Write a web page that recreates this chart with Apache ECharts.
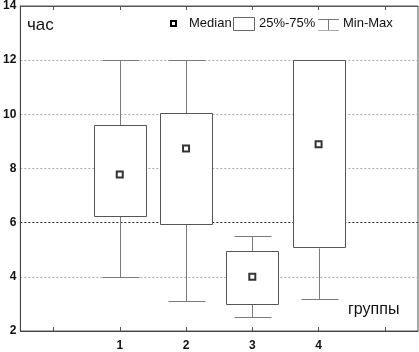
<!DOCTYPE html>
<html>
<head>
<meta charset="utf-8">
<script src="https://cdn.jsdelivr.net/npm/echarts@6/dist/echarts.min.js"></script>
<style>
  html, body { margin: 0; padding: 0; background: #fff; }
  #chart { width: 419px; height: 352px; }
</style>
</head>
<body>
<div id="chart"></div>
<script>
// данные: группы и их статистики (час)
var categories = ['0', '1', '2', '3', '4', '5'];
var xTickLabels = ['', '1', '2', '3', '4', ''];
var groupIndex = [1, 2, 3, 4];
var minValues = [4.0, 3.1, 2.5, 3.2];
var q1Values = [6.23, 5.95, 3.0, 5.08];
var medianValues = [7.78, 8.74, 4.0, 8.9];
var q3Values = [9.6, 10.05, 4.97, 12.0];
var maxValues = [12.0, 12.0, 5.5, 12.0];
var yTicks = [2, 4, 6, 8, 10, 12, 14];

var boxData = groupIndex.map(function (g, i) {
  return [g, minValues[i], q1Values[i], medianValues[i], q3Values[i], maxValues[i]];
});
var medianData = groupIndex.map(function (g, i) {
  return [g, medianValues[i]];
});

var myChart = echarts.init(document.getElementById('chart'), null, { renderer: 'canvas' });

function crisp(v) { return Math.round(v) + 0.5; }

var option = {
  animation: false,
  backgroundColor: '#fff',
  textStyle: { fontFamily: 'Liberation Sans, Arial, sans-serif' },
  grid: {
    left: 18, right: 1, top: 4, bottom: 20,
    show: true, borderColor: '#555', borderWidth: 1, backgroundColor: '#fff'
  },
  xAxis: [
    {
      type: 'category',
      data: categories,
      boundaryGap: true,
      axisLine: { show: true, lineStyle: { color: '#444', width: 1 } },
      axisTick: { show: true, inside: true, alignWithLabel: true, length: 4, lineStyle: { color: '#555' } },
      axisLabel: {
        margin: 9, color: '#111', fontSize: 12, fontWeight: 'bold',
        formatter: function (v, i) { return xTickLabels[i]; }
      },
      splitLine: { show: false }
    },
    {
      type: 'category',
      position: 'top',
      data: categories,
      boundaryGap: true,
      axisLine: { show: true, lineStyle: { color: '#555', width: 1 } },
      axisTick: { show: true, inside: true, alignWithLabel: true, length: 4, lineStyle: { color: '#555' } },
      axisLabel: { show: false },
      splitLine: { show: false }
    }
  ],
  yAxis: {
    type: 'value',
    min: yTicks[0],
    max: yTicks[yTicks.length - 1],
    interval: 2,
    axisLine: { show: true, lineStyle: { color: '#444', width: 1 } },
    axisTick: { show: false },
    axisLabel: { margin: 4, color: '#111', fontSize: 12, fontWeight: 'bold' },
    splitLine: {
      show: true,
      lineStyle: {
        color: ['#aaa', '#aaa', '#222', '#aaa', '#aaa', '#aaa', '#aaa'],
        type: [2, 2],
        width: 1
      }
    }
  },
  series: [
    {
      type: 'custom',
      name: 'boxes',
      data: boxData,
      encode: { x: 0, y: [1, 2, 3, 4, 5] },
      z: 3,
      renderItem: function (params, api) {
        var x = api.value(0);
        var lo = api.coord([x, api.value(1)]);
        var q1 = api.coord([x, api.value(2)]);
        var q3 = api.coord([x, api.value(4)]);
        var hi = api.coord([x, api.value(5)]);
        var band = api.size([1, 0])[0];
        var bw = band * 0.79;
        var cw = band * 0.56;
        var cx = crisp(lo[0]);
        var whisk = { stroke: '#7a7a7a', lineWidth: 1 };
        return {
          type: 'group',
          children: [
            { type: 'line', shape: { x1: cx, y1: crisp(hi[1]), x2: cx, y2: crisp(q3[1]) }, style: whisk },
            { type: 'line', shape: { x1: cx, y1: crisp(lo[1]), x2: cx, y2: crisp(q1[1]) }, style: whisk },
            { type: 'line', shape: { x1: crisp(cx - cw / 2), y1: crisp(hi[1]), x2: crisp(cx + cw / 2), y2: crisp(hi[1]) }, style: whisk },
            { type: 'line', shape: { x1: crisp(cx - cw / 2), y1: crisp(lo[1]), x2: crisp(cx + cw / 2), y2: crisp(lo[1]) }, style: whisk },
            {
              type: 'rect',
              shape: {
                x: crisp(cx - bw / 2), y: crisp(q3[1]),
                width: Math.round(bw), height: Math.round(q1[1] - q3[1])
              },
              style: { fill: '#fff', stroke: '#555', lineWidth: 1 }
            }
          ]
        };
      }
    },
    {
      type: 'scatter',
      name: 'Median',
      data: medianData,
      symbol: 'rect',
      symbolSize: 6,
      z: 4,
      itemStyle: { color: '#fff', borderColor: '#000', borderWidth: 2 }
    }
  ],
  graphic: [
    { type: 'text', left: 27, top: 17, style: { text: 'час', font: '17px "Liberation Sans", Arial, sans-serif', fill: '#111' } },
    { type: 'text', left: 348, top: 302, style: { text: 'группы', font: '16px "Liberation Sans", Arial, sans-serif', fill: '#111' } },
    // legend
    { type: 'rect', shape: { x: 171, y: 21, width: 5, height: 5 }, style: { fill: '#fff', stroke: '#000', lineWidth: 2 } },
    { type: 'text', left: 189, top: 17, style: { text: 'Median', font: '13px "Liberation Sans", Arial, sans-serif', fill: '#111' } },
    { type: 'rect', shape: { x: 233.5, y: 17.5, width: 21, height: 13 }, style: { fill: '#fff', stroke: '#666', lineWidth: 1 } },
    { type: 'text', left: 259, top: 17, style: { text: '25%-75%', font: '13px "Liberation Sans", Arial, sans-serif', fill: '#111' } },
    { type: 'line', shape: { x1: 318, y1: 19.5, x2: 339, y2: 19.5 }, style: { stroke: '#777', lineWidth: 1 } },
    { type: 'line', shape: { x1: 328.5, y1: 19.5, x2: 328.5, y2: 30.5 }, style: { stroke: '#777', lineWidth: 1 } },
    { type: 'line', shape: { x1: 318, y1: 30.5, x2: 339, y2: 30.5 }, style: { stroke: '#aaa', lineWidth: 1 } },
    { type: 'text', left: 343, top: 17, style: { text: 'Min-Max', font: '13px "Liberation Sans", Arial, sans-serif', fill: '#111' } }
  ]
};

myChart.setOption(option);
</script>
</body>
</html>
